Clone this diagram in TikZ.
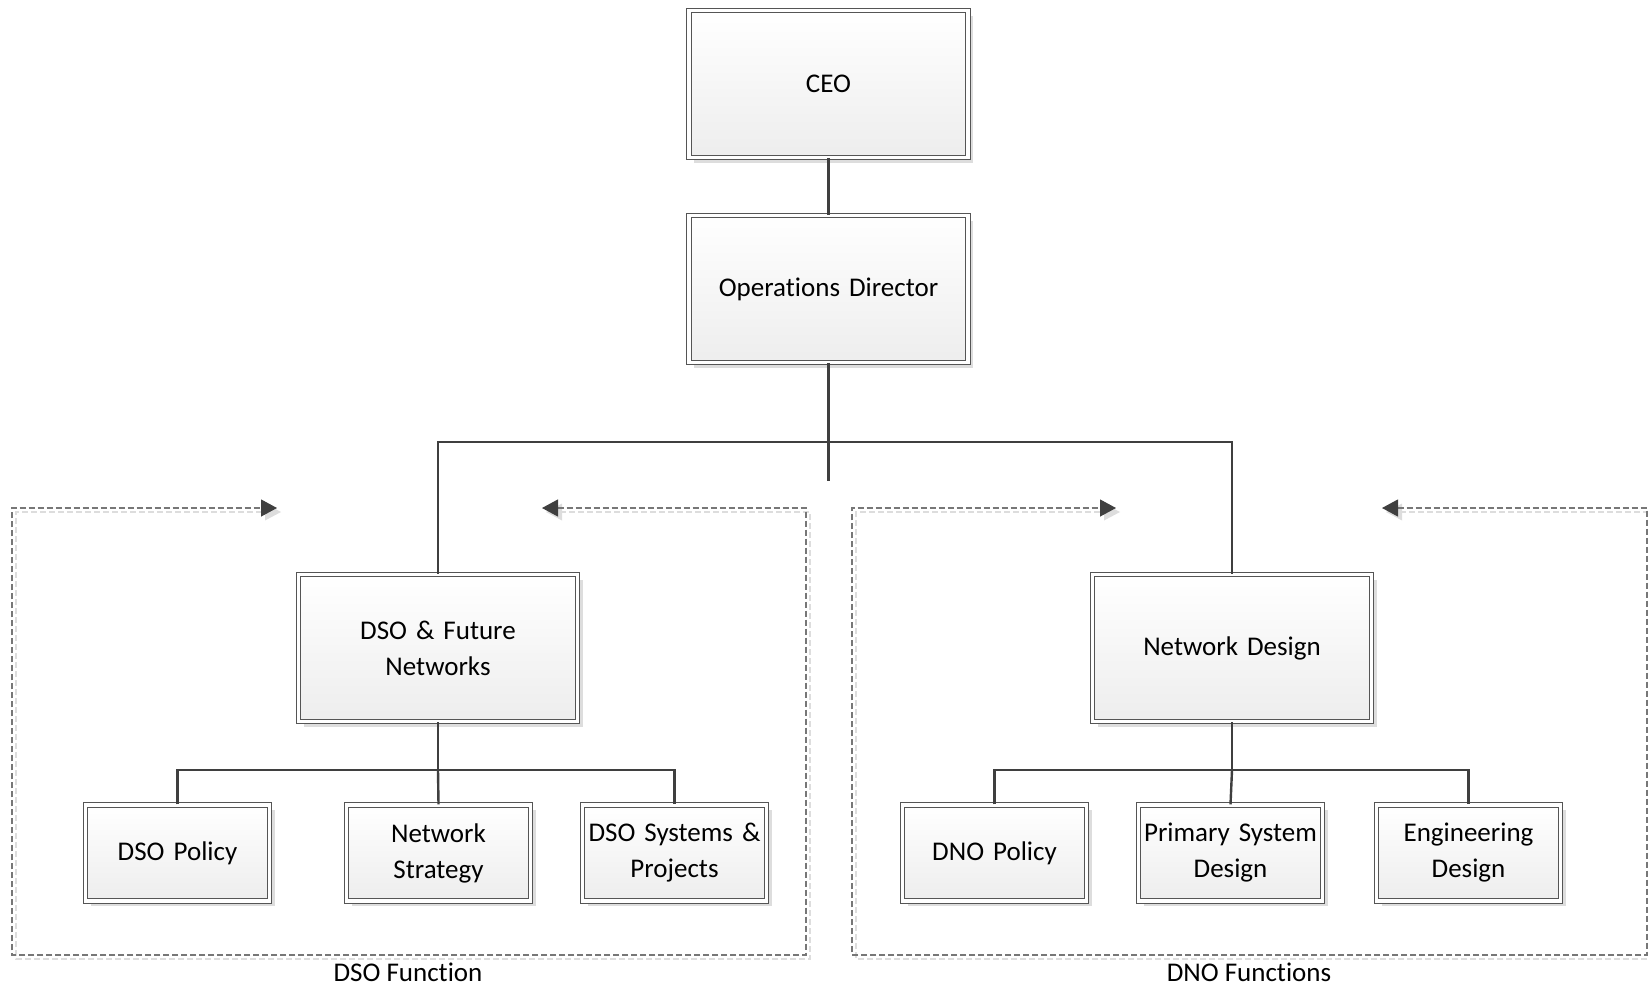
\documentclass[tikz,border=0pt]{standalone}
\usepackage{fontspec}
\setmainfont{Carlito}[Ligatures={NoCommon}]
\usetikzlibrary{shadows,arrows.meta}
\definecolor{linec}{HTML}{3F3F3F}
\definecolor{borderc}{HTML}{555555}
\definecolor{dashc}{HTML}{777777}
\definecolor{shadc}{HTML}{DDDDDD}
\begin{document}
\begin{tikzpicture}[x=1bp,y=-1bp,
  font=\fontsize{27bp}{36bp}\selectfont,
  box/.style={draw=borderc, line width=1.1bp, double=white, double distance=3.6bp,
    top color=white, bottom color=gray!14, align=center, inner sep=2bp,
    drop shadow={shadow xshift=5bp, shadow yshift=-5bp, fill=shadc, opacity=1}},
  bigbox/.style={box, minimum width=279bp, minimum height=147bp, text width=260bp},
  smallbox/.style={box, minimum width=184bp, minimum height=96bp, text width=178bp},
  conn/.style={draw=linec, line width=2.4bp},
  dashline/.style={draw=dashc, line width=1.2bp, dash pattern=on 6bp off 3bp},
  dashshadow/.style={draw=shadc, line width=1.2bp, dash pattern=on 6bp off 3bp},
  tips/.style={{Triangle[length=16bp,width=17bp,color=linec]}-{Triangle[length=16bp,width=17bp,color=linec]}},
  lbl/.style={inner sep=0pt}
]
\useasboundingbox (0,0) rectangle (1648,987);

% dashed group frames (shadows first)
\draw[dashshadow] (560,512) -- (810,512) -- (810,959) -- (16,959) -- (16,512) -- (265,512);
\fill[shadc] (265,503.5) -- (281,512) -- (265,520.5) -- cycle;
\fill[shadc] (562,503.5) -- (546,512) -- (562,520.5) -- cycle;
\draw[dashshadow] (1400,512) -- (1651,512) -- (1651,959) -- (856,959) -- (856,512) -- (1104,512);
\fill[shadc] (1104,503.5) -- (1120,512) -- (1104,520.5) -- cycle;
\fill[shadc] (1402,503.5) -- (1386,512) -- (1402,520.5) -- cycle;

\coordinate (la) at (542,508);
\coordinate (lb) at (277,508);
\coordinate (ra) at (1382,508);
\coordinate (rb) at (1116,508);
\draw[dashline, tips] (la) -- (806,508) -- (806,955) -- (12,955) -- (12,508) -- (lb);
\draw[dashline, tips] (ra) -- (1647,508) -- (1647,955) -- (852,955) -- (852,508) -- (rb);

\node[lbl] (dsolbl) at (408,972) {DSO Function};
\node[lbl] (dnolbl) at (1249,972) {DNO Functions};

% boxes
\node[bigbox] (ceo) at (828.5,84) {CEO};
\node[bigbox] (ops) at (828.5,289) {Operations Director};
\node[bigbox] (dso) at (438,648) {DSO \& Future\\Networks};
\node[bigbox] (nd) at (1232,648) {Network Design};

\node[smallbox] (c1) at (177.5,853) {DSO Policy};
\node[smallbox] (c2) at (438.5,853) {Network\\Strategy};
\node[smallbox] (c3) at (674.5,853) {DSO Systems \&\\Projects};
\node[smallbox] (c4) at (994.5,853) {DNO Policy};
\node[smallbox] (c5) at (1230.5,853) {Primary System\\Design};
\node[smallbox] (c6) at (1468.5,853) {Engineering\\Design};

% connectors
\coordinate (bar) at (828.5,442);
\coordinate (stub) at (828.5,481);
\coordinate (jl) at (438,770);
\coordinate (jr) at (1232,770);
\path[conn] (ceo.south) -- (ops.north);
\path[conn] (ops.south) -- (stub);
\path[conn] (dso.north) |- (bar) -| (nd.north);
\path[conn] (dso.south) -- (jl);
\path[conn] (c1.north) |- (jl) -| (c3.north);
\path[conn] (c2.north) -- (jl);
\path[conn] (nd.south) -- (jr);
\path[conn] (c4.north) |- (jr) -| (c6.north);
\path[conn] (c5.north) -- (jr);
\end{tikzpicture}
\end{document}
